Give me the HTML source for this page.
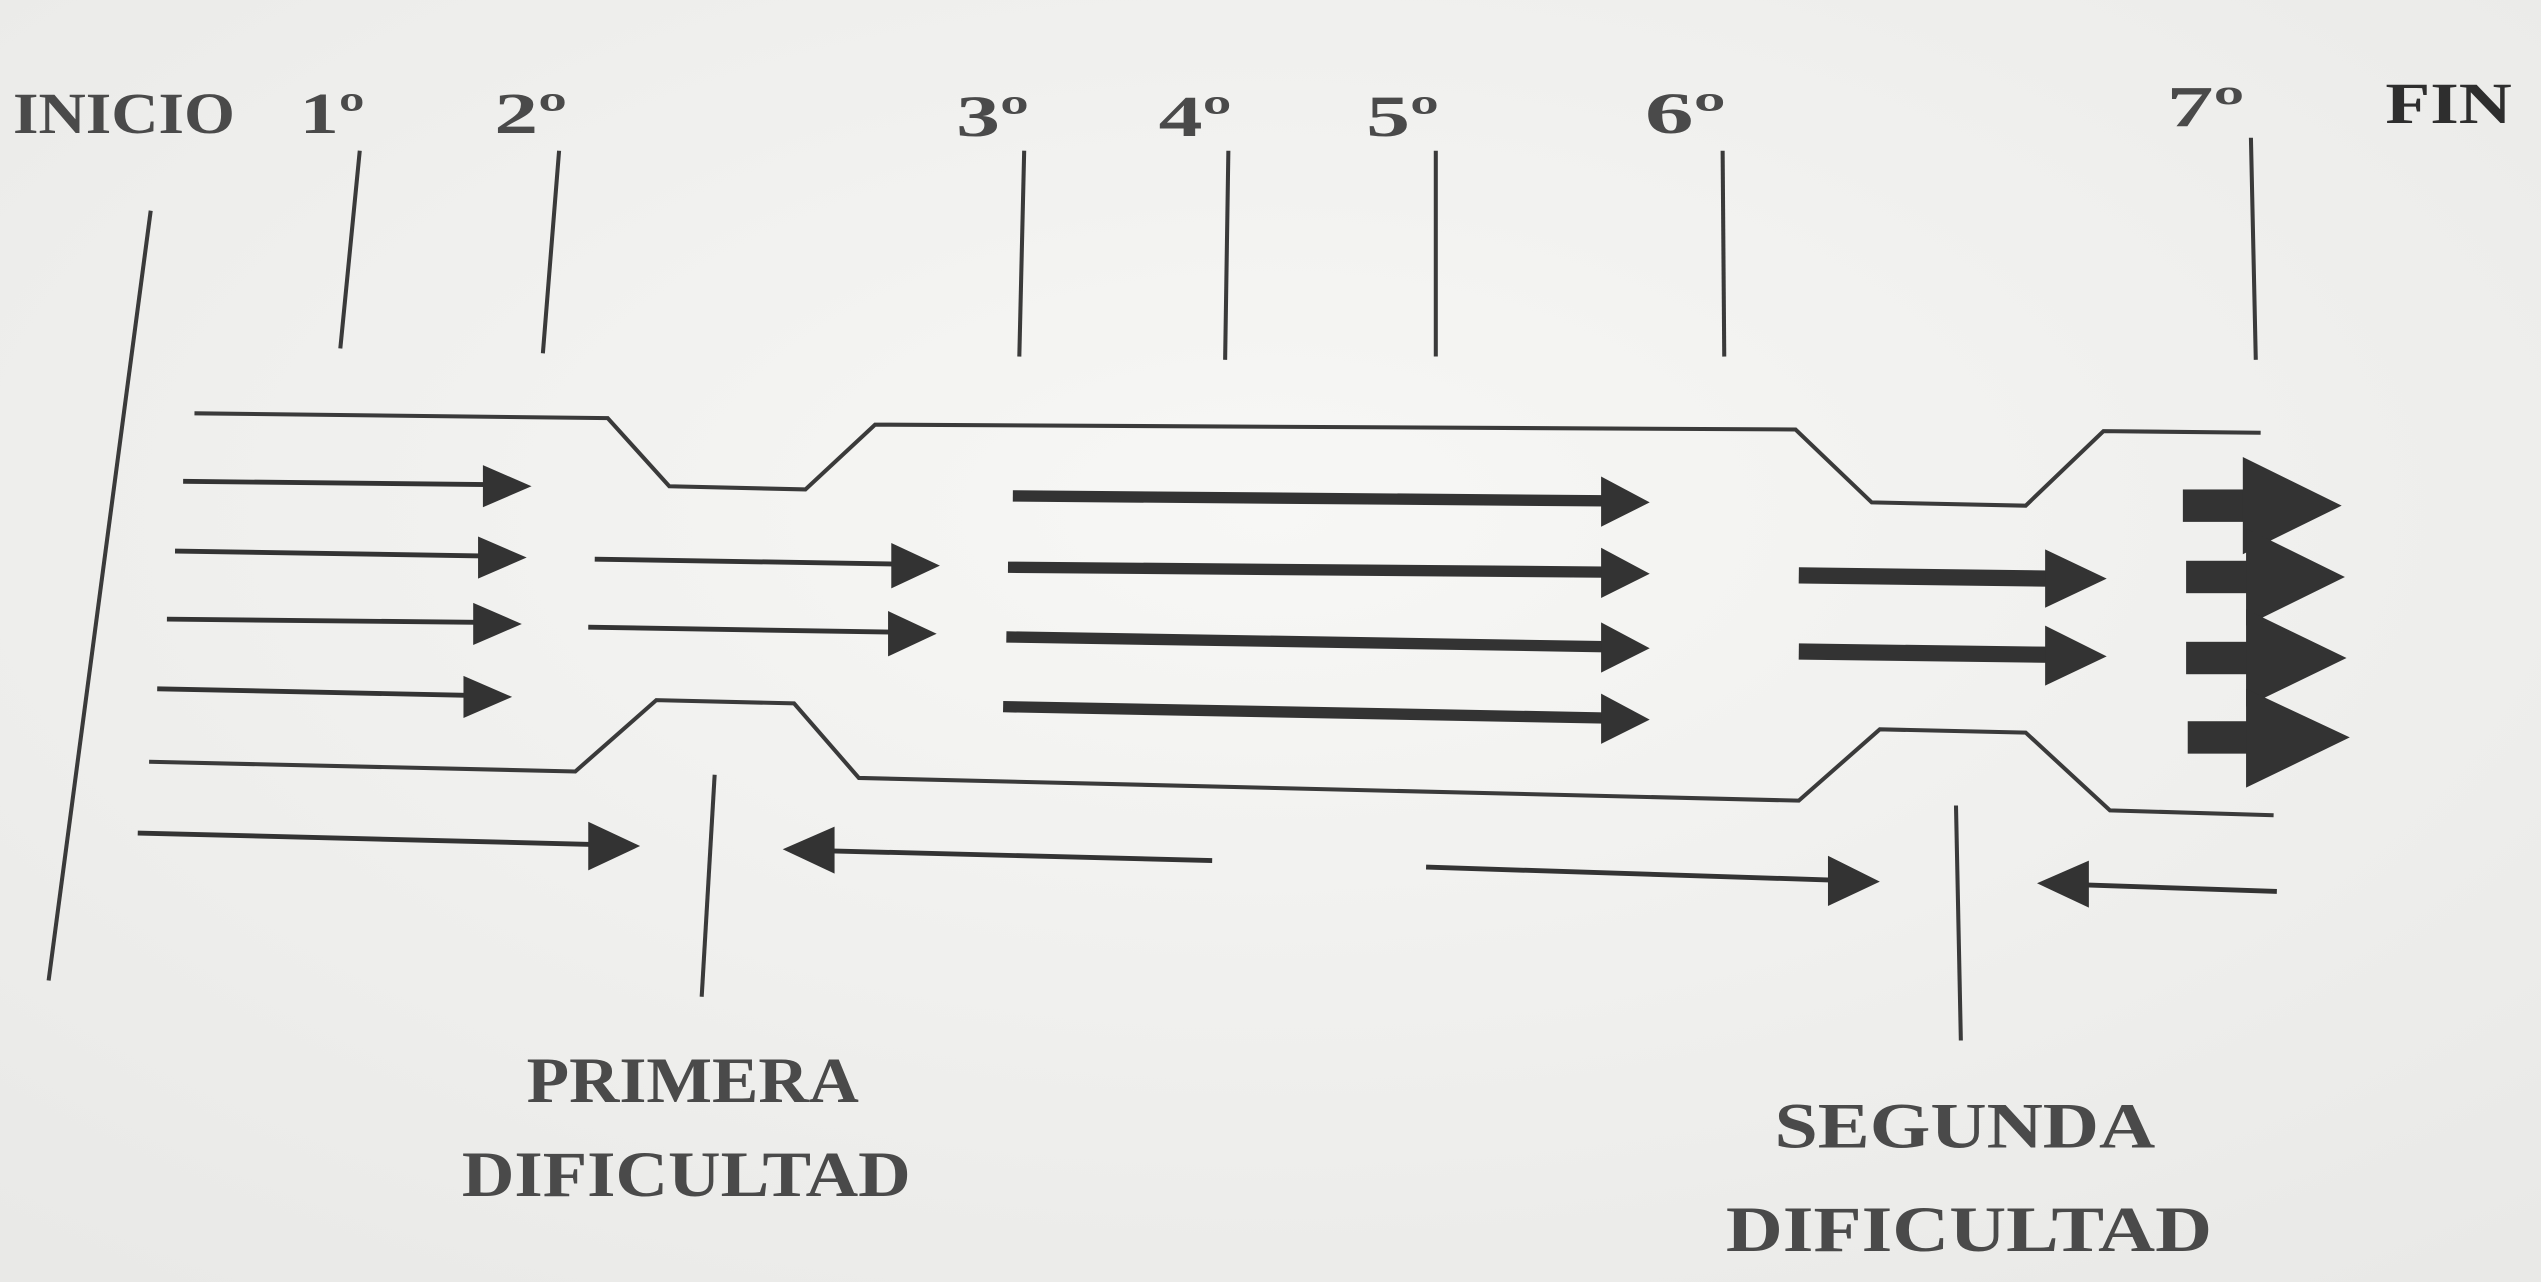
<!DOCTYPE html>
<html><head><meta charset="utf-8"><style>
html,body{margin:0;padding:0;background:#f3f3f1;}
svg{display:block;}
text{font-family:"Liberation Serif",serif;font-weight:bold;fill:#4a4a4a;}
</style></head><body>
<svg width="2541" height="1282" viewBox="0 0 1568 791" preserveAspectRatio="none" xmlns="http://www.w3.org/2000/svg">
<defs>
<radialGradient id="bg" cx="50%" cy="40%" r="75%"><stop offset="0" stop-color="#f7f7f5"/><stop offset="1" stop-color="#e9e9e7"/></radialGradient>
</defs>
<rect width="1568" height="791" fill="url(#bg)"/>
<g font-size="36">
<text x="8" y="82" textLength="137" lengthAdjust="spacingAndGlyphs">INICIO</text>
<text x="185" y="82" textLength="40" lengthAdjust="spacingAndGlyphs">1º</text>
<text x="305" y="82" textLength="45" lengthAdjust="spacingAndGlyphs">2º</text>
<text x="590" y="84" textLength="45" lengthAdjust="spacingAndGlyphs">3º</text>
<text x="715" y="84" textLength="45" lengthAdjust="spacingAndGlyphs">4º</text>
<text x="843" y="84" textLength="45" lengthAdjust="spacingAndGlyphs">5º</text>
<text x="1015" y="82" textLength="50" lengthAdjust="spacingAndGlyphs">6º</text>
<text x="1337" y="78" textLength="48" lengthAdjust="spacingAndGlyphs">7º</text>
<text x="1472" y="76" textLength="78" lengthAdjust="spacingAndGlyphs" style="fill:#2e2e2e">FIN</text>
</g>
<g stroke="#3a3a3a" stroke-width="2.5" fill="none">
<line x1="93" y1="130" x2="30" y2="605"/>
<line x1="222" y1="93" x2="210" y2="215"/>
<line x1="345" y1="93" x2="335" y2="218"/>
<line x1="632" y1="93" x2="629" y2="220"/>
<line x1="758" y1="93" x2="756" y2="222"/>
<line x1="886" y1="93" x2="886" y2="220"/>
<line x1="1063" y1="93" x2="1064" y2="220"/>
<line x1="1389" y1="85" x2="1392" y2="222"/>
<line x1="441" y1="478" x2="433" y2="615"/>
<line x1="1207" y1="497" x2="1210" y2="642"/>
<polyline points="120,255 375,258 413,300 497,302 540,262 1108,265 1155,310 1250,312 1298,266 1395,267"/>
<polyline points="92,470 355,476 405,432 490,434 530,480 1110,494 1160,450 1250,452 1302,500 1403,503"/>
</g>
<g fill="#333" stroke="#333">
<g stroke-width="3">
<line x1="113" y1="297" x2="300" y2="299"/><polygon points="298,287 328,300 298,313" stroke="none"/>
<line x1="108" y1="340" x2="297" y2="343"/><polygon points="295,331 325,344 295,357" stroke="none"/>
<line x1="103" y1="382" x2="294" y2="384"/><polygon points="292,372 322,385 292,398" stroke="none"/>
<line x1="97" y1="425" x2="288" y2="429"/><polygon points="286,417 316,430 286,443" stroke="none"/>
<line x1="367" y1="345" x2="552" y2="348"/><polygon points="550,335 580,349 550,363" stroke="none"/>
<line x1="363" y1="387" x2="550" y2="390"/><polygon points="548,377 578,391 548,405" stroke="none"/>
<line x1="85" y1="514" x2="365" y2="521"/><polygon points="363,507 395,522 363,537" stroke="none"/>
<line x1="748" y1="531" x2="513" y2="525"/><polygon points="515,510 483,524 515,539" stroke="none"/>
<line x1="880" y1="535" x2="1130" y2="543"/><polygon points="1128,528 1160,544 1128,559" stroke="none"/>
<line x1="1405" y1="550" x2="1287" y2="546"/><polygon points="1289,531 1257,545 1289,560" stroke="none"/>
</g>
<g stroke-width="7">
<line x1="625" y1="306" x2="990" y2="309"/><polygon points="988,294 1018,310 988,325" stroke="none"/>
<line x1="622" y1="350" x2="990" y2="353"/><polygon points="988,338 1018,354 988,369" stroke="none"/>
<line x1="621" y1="393" x2="990" y2="399"/><polygon points="988,384 1018,400 988,415" stroke="none"/>
<line x1="619" y1="436" x2="990" y2="443"/><polygon points="988,428 1018,444 988,459" stroke="none"/>
</g>
<g stroke-width="10">
<line x1="1110" y1="355" x2="1265" y2="357"/><polygon points="1262,339 1300,357 1262,375" stroke="none"/>
<line x1="1110" y1="402" x2="1265" y2="404"/><polygon points="1262,386 1300,405 1262,423" stroke="none"/>
</g>
<g stroke="none">
<rect x="1347" y="302" width="45" height="20"/><polygon points="1384,282 1445,312 1384,342"/>
<rect x="1349" y="346" width="45" height="20"/><polygon points="1386,326 1447,356 1386,386"/>
<rect x="1349" y="396" width="45" height="20"/><polygon points="1386,376 1448,406 1386,436"/>
<rect x="1350" y="445" width="45" height="20"/><polygon points="1386,425 1450,455 1386,486"/>
</g>
</g>
<g font-size="40">
<text x="325" y="680" textLength="205" lengthAdjust="spacingAndGlyphs">PRIMERA</text>
<text x="285" y="738" textLength="277" lengthAdjust="spacingAndGlyphs">DIFICULTAD</text>
<text x="1095" y="708" textLength="235" lengthAdjust="spacingAndGlyphs">SEGUNDA</text>
<text x="1065" y="772" textLength="300" lengthAdjust="spacingAndGlyphs">DIFICULTAD</text>
</g>
</svg>
</body></html>
